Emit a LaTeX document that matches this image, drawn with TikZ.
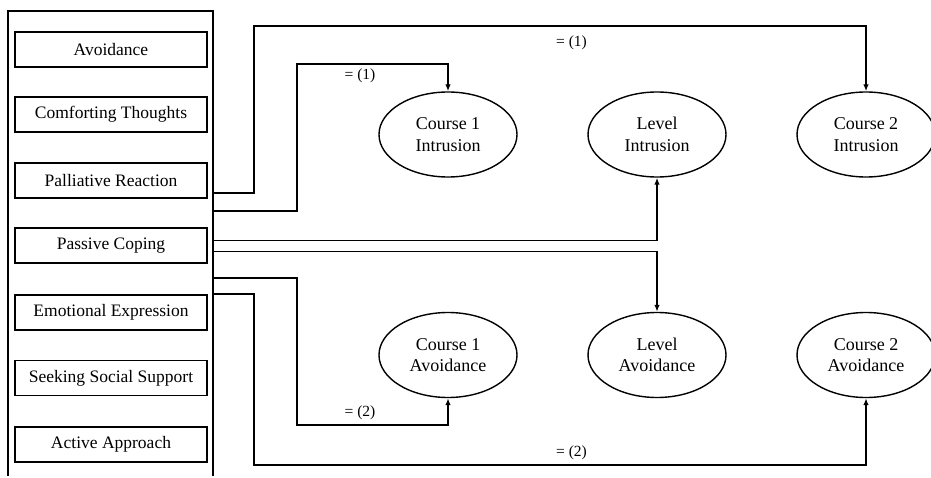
\documentclass[tikz,border=0pt]{standalone}
\usepackage{fontspec}
\setmainfont{Liberation Serif}
\usetikzlibrary{arrows.meta,shapes.geometric}
\begin{document}
\begin{tikzpicture}[x=1pt,y=-1pt,
  box/.style={draw,line width=1.4pt,minimum width=192pt,minimum height=35pt,inner sep=0pt,font=\fontsize{17.5}{20}\selectfont},
  ell/.style={draw,ellipse,line width=1.4pt,minimum width=138pt,minimum height=85pt,inner sep=0pt,align=center,font=\fontsize{18}{21.5}\selectfont},
  conn/.style={line width=2.4pt,-{Latex[length=7pt,width=5.5pt]}},
  thinconn/.style={line width=1.5pt,-{Latex[length=7pt,width=5.5pt]}},
  lbl/.style={font=\fontsize{15.5}{17}\selectfont,inner sep=0pt}]
\useasboundingbox (0,0) rectangle (931,478);
% group frame
\coordinate (g1) at (8,476);
\coordinate (g2) at (213,476);
\draw[line width=2.2pt] (g1) |- (213,11) -- (g2);
% boxes
\node[box] (b1) at (111,49.5) {Avoidance};
\node[box] (b2) at (111,114.5) {Comforting Thoughts};
\node[box] (b3) at (111,180.5) {Palliative Reaction};
\node[box] (b4) at (111,245.5) {Passive Coping};
\node[box] (b5) at (111,312.5) {Emotional Expression};
\node[box] (b6) at (111,378) {Seeking Social Support};
\node[box] (b7) at (111,444.5) {Active Approach};
% ellipses
\node[ell] (c1i) at (448,134.5) {Course 1\\Intrusion};
\node[ell] (li)  at (657,134.5) {Level\\Intrusion};
\node[ell] (c2i) at (866,134.5) {Course 2\\Intrusion};
\node[ell] (c1a) at (448,355) {Course 1\\Avoidance};
\node[ell] (la)  at (657,355) {Level\\Avoidance};
\node[ell] (c2a) at (866,355) {Course 2\\Avoidance};
% start points on frame
\coordinate (p1) at (213,193);
\coordinate (p2) at (213,211);
\coordinate (p3) at (213,240.5);
\coordinate (p4) at (213,251.5);
\coordinate (p5) at (213,278);
\coordinate (p6) at (213,294);
% connectors
\draw[conn] (p1) -| (254,26) -| (c2i.north);
\draw[conn] (p2) -| (297,64) -| (c1i.north);
\draw[thinconn] (p3) -| (li.south);
\draw[thinconn] (p4) -| (la.north);
\draw[conn] (p5) -| (297,425) -| (c1a.south);
\draw[conn] (p6) -| (254,465) -| (c2a.south);
% labels
\node[lbl] (l1) at (571.5,43) {= (1)};
\node[lbl] (l2) at (360,76) {= (1)};
\node[lbl] (l3) at (360,413) {= (2)};
\node[lbl] (l4) at (571.5,453) {= (2)};
\end{tikzpicture}
\end{document}
